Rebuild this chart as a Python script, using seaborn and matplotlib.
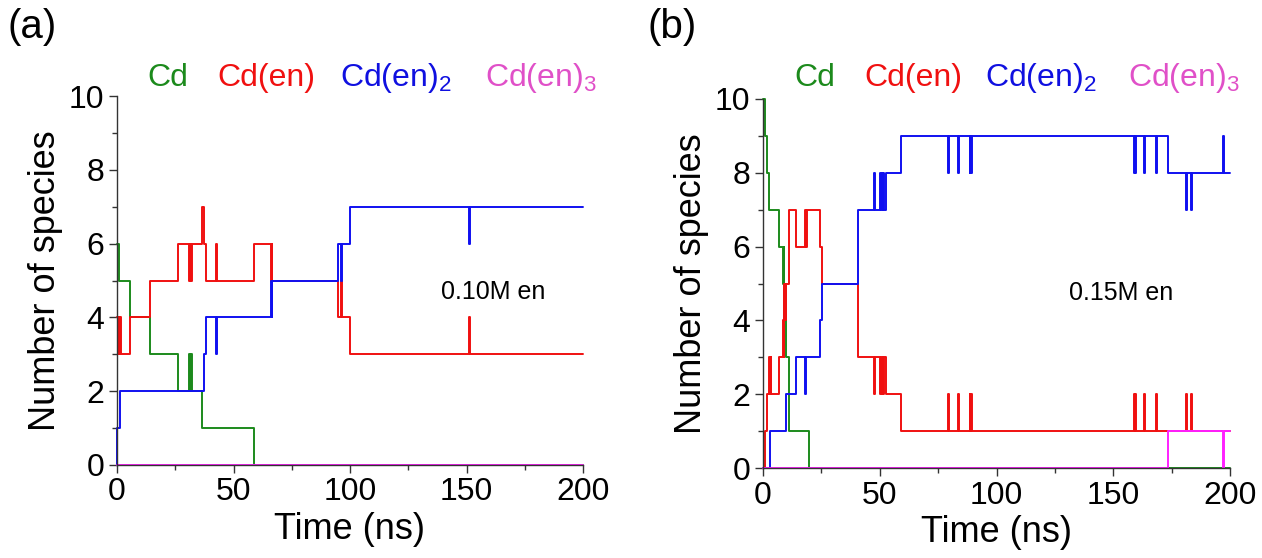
import numpy as np
import pandas as pd
import matplotlib
matplotlib.use("Agg")
import matplotlib.pyplot as plt
from matplotlib.ticker import MultipleLocator
import seaborn as sns

# ---- species counts vs. time (step changes), 0.10 M en ----
cd_a_t = [0, 1.0, 5.4, 14.3, 26.1, 30.8, 31.2, 31.9, 32.3, 36.4, 59.0, 200]
cd_a_n = [6, 5, 4, 3, 2, 3, 2, 3, 2, 1, 0, 0]

cden_a_t = [0, 0.4, 0.7, 1.0, 1.3, 1.6, 5.4, 14.3, 26.1, 30.8, 31.2, 31.9, 32.3,
            36.4, 37.4, 38.1, 42.7, 43.1, 59.0, 66.0, 66.4, 66.6, 94.9, 96.2,
            96.6, 100.0, 151.0, 151.4, 200]
cden_a_n = [4, 3, 4, 3, 4, 3, 4, 5, 6, 5, 6, 5, 6,
            7, 6, 5, 6, 5, 6, 5, 6, 5, 4, 5,
            4, 3, 4, 3, 3]

cden2_a_t = [0, 0.2, 1.4, 37.4, 38.1, 42.7, 43.1, 66.0, 66.4, 66.6, 94.9, 96.2,
             96.6, 100.0, 151.0, 151.4, 200]
cden2_a_n = [0, 1, 2, 3, 4, 3, 4, 5, 4, 5, 6, 5,
             6, 7, 6, 7, 7]

cden3_a_t = [0, 200]
cden3_a_n = [0, 0]

# ---- species counts vs. time (step changes), 0.15 M en ----
cd_b_t = [0, 0.7, 1.7, 2.6, 6.9, 8.6, 8.9, 9.2, 9.4, 9.7, 11.1, 19.7, 200]
cd_b_n = [10, 9, 8, 7, 6, 5, 6, 4, 5, 3, 1, 0, 0]

cden_b_t = [0, 0.7, 1.7, 2.5, 2.8, 3.3, 3.6, 6.9, 8.6, 8.9, 9.2, 9.4, 9.7,
            11.1, 14.3, 17.9, 18.3, 18.9, 24.6, 25.3, 40.7, 47.6, 48.0,
            50.0, 50.4, 50.8, 51.2, 51.6, 52.0, 52.8, 59.3, 79.2, 79.6, 83.4,
            83.8, 88.5, 88.8, 89.0, 89.3, 159.0, 159.3, 159.5, 159.8, 163.0,
            163.4, 168.4, 168.8, 181.3, 181.7, 183.2, 183.6, 200]
cden_b_n = [0, 1, 2, 3, 2, 3, 2, 3, 4, 3, 5, 4, 5,
            7, 6, 7, 6, 7, 6, 5, 3, 2, 3,
            2, 3, 2, 3, 2, 3, 2, 1, 2, 1, 2,
            1, 2, 1, 2, 1, 2, 1, 2, 1, 2,
            1, 2, 1, 2, 1, 2, 1, 1]

cden2_b_t = [0, 3.1, 9.7, 14.3, 17.9, 18.3, 24.6, 25.3, 40.7, 47.6, 48.0,
             50.0, 50.4, 50.8, 51.2, 51.6, 52.0, 52.8, 59.3, 79.2, 79.6, 83.4,
             83.8, 88.5, 88.8, 89.0, 89.3, 159.0, 159.3, 159.5, 159.8, 163.0,
             163.4, 168.4, 168.8, 173.6, 181.3, 181.7, 183.2, 183.6, 197.1,
             197.5, 200]
cden2_b_n = [0, 1, 2, 3, 2, 3, 4, 5, 7, 8, 7,
             8, 7, 8, 7, 8, 7, 8, 9, 8, 9, 8,
             9, 8, 9, 8, 9, 8, 9, 8, 9, 8,
             9, 8, 9, 8, 7, 8, 7, 8, 9,
             8, 8]

cden3_b_t = [0, 173.6, 197.1, 197.5, 200]
cden3_b_n = [0, 1, 0, 1, 1]

species = ["Cd", "Cd(en)", "Cd(en)2", "Cd(en)3"]
species_labels = ["Cd", "Cd(en)", "Cd(en)$_2$", "Cd(en)$_3$"]
line_colors = ["#1c8a1c", "#f01010", "#1010f0", "#ff20ff"]
text_colors = ["#1c8a1c", "#f01010", "#1010e0", "#e050c8"]
time_ticks = [0, 50, 100, 150, 200]
count_ticks = [0, 2, 4, 6, 8, 10]

panels = [
    ("(a)", "0.10M en",
     [(cd_a_t, cd_a_n), (cden_a_t, cden_a_n), (cden2_a_t, cden2_a_n), (cden3_a_t, cden3_a_n)]),
    ("(b)", "0.15M en",
     [(cd_b_t, cd_b_n), (cden_b_t, cden_b_n), (cden2_b_t, cden2_b_n), (cden3_b_t, cden3_b_n)]),
]

sns.set_theme(style="ticks")
plt.rcParams["font.family"] = ["Liberation Sans", "DejaVu Sans"]
plt.rcParams["mathtext.default"] = "regular"
plt.rcParams["axes.linewidth"] = 1.0
plt.rcParams["text.color"] = "black"
plt.rcParams["axes.labelcolor"] = "black"
plt.rcParams["xtick.labelcolor"] = "black"
plt.rcParams["ytick.labelcolor"] = "black"

W, H = 1262, 558
fig = plt.figure(figsize=(W / 100, H / 100), dpi=100)

# axes boxes in pixels: left, right, top, bottom
boxes = [(117, 583, 96, 465), (763, 1230, 99, 468)]
legend_x = [[147, 217, 340, 485], [794, 864, 985, 1128]]
panel_label_x = [8, 648]
note_xy = [(139, 4.7), (131, 4.75)]

palette = dict(zip(species, line_colors))

for i, (plabel, note, series) in enumerate(panels):
    l, r, t, b = boxes[i]
    ax = fig.add_axes([l / W, 1 - b / H, (r - l) / W, (b - t) / H])

    frames = []
    for name, (tt, nn) in zip(species, series):
        frames.append(pd.DataFrame({"time": tt, "count": nn, "species": name}))
    df = pd.concat(frames, ignore_index=True)

    sns.lineplot(data=df, x="time", y="count", hue="species", hue_order=species,
                 palette=palette, drawstyle="steps-post", estimator=None,
                 sort=False, legend=False, linewidth=1.4, ax=ax)
    for ln in ax.get_lines():
        ln.set_clip_on(False)

    ax.set_xlim(0, 200)
    ax.set_ylim(0, 10)
    ax.set_xticks(time_ticks)
    ax.set_yticks(count_ticks)
    ax.xaxis.set_minor_locator(MultipleLocator(25))
    ax.yaxis.set_minor_locator(MultipleLocator(1))
    ax.tick_params(which="major", direction="out", length=6, width=1.0,
                   color="#333333", labelsize=23, pad=3)
    ax.tick_params(which="minor", direction="out", length=3.5, width=1.0,
                   color="#333333")
    for side in ("top", "right"):
        ax.spines[side].set_visible(False)
    for side in ("left", "bottom"):
        ax.spines[side].set_color("#333333")

    ax.set_xlabel("Time (ns)", fontsize=26, labelpad=3)
    ax.set_ylabel("Number of species", fontsize=26, labelpad=4)

    ax.text(note_xy[i][0], note_xy[i][1], note, fontsize=18, ha="left", va="center")

    for x0, lab, col in zip(legend_x[i], species_labels, text_colors):
        fig.text(x0 / W, 1 - 78 / H, lab, color=col, fontsize=23,
                 ha="left", va="center")

    fig.text(panel_label_x[i] / W, 1 - 27 / H, plabel, fontsize=29,
             ha="left", va="center")

fig.savefig("out.png", dpi=100)
